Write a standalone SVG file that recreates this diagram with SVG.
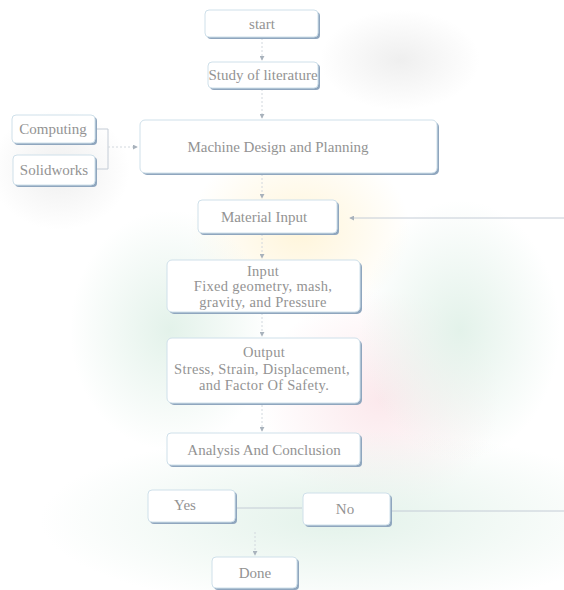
<svg xmlns="http://www.w3.org/2000/svg" width="564" height="590" viewBox="0 0 564 590">
<defs>
<style>
.bx{fill:#ffffff;stroke:#cfe0ea;stroke-width:1}
.sh{fill:#8fa6be}
.t{font-family:"Liberation Serif","Times New Roman",serif;font-size:15px;fill:#939393;text-anchor:middle}
.m{font-size:14.5px;letter-spacing:0.3px}
.ln{stroke:#c4ccd6;stroke-width:1;fill:none}
.ar{stroke:#d2d8de;stroke-width:1;fill:none;stroke-dasharray:2 2;marker-end:url(#ah)}
</style>
<marker id="ah" viewBox="0 0 6 6" refX="5" refY="3" markerWidth="5" markerHeight="5" orient="auto">
<path d="M0,0 L6,3 L0,6 z" fill="#a8b2bc"/>
</marker>
<radialGradient id="gy" cx="0.5" cy="0.5" r="0.5"><stop offset="0" stop-color="#fff4d6" stop-opacity="0.9"/><stop offset="1" stop-color="#fff4d6" stop-opacity="0"/></radialGradient>
<radialGradient id="gp" cx="0.5" cy="0.5" r="0.5"><stop offset="0" stop-color="#fbe6ea" stop-opacity="0.9"/><stop offset="1" stop-color="#fbe6ea" stop-opacity="0"/></radialGradient>
<radialGradient id="gg" cx="0.5" cy="0.5" r="0.5"><stop offset="0" stop-color="#e3f2ea" stop-opacity="1"/><stop offset="1" stop-color="#e3f2ea" stop-opacity="0"/></radialGradient>
<radialGradient id="gs" cx="0.5" cy="0.5" r="0.5"><stop offset="0" stop-color="#ededed" stop-opacity="0.9"/><stop offset="1" stop-color="#ededed" stop-opacity="0"/></radialGradient>
</defs>
<rect width="564" height="590" fill="#ffffff"/>
<g id="background">
<ellipse cx="300" cy="230" rx="110" ry="90" fill="url(#gy)"/>
<ellipse cx="380" cy="400" rx="120" ry="110" fill="url(#gp)"/>
<ellipse cx="170" cy="330" rx="100" ry="120" fill="url(#gg)"/>
<ellipse cx="340" cy="520" rx="300" ry="90" fill="url(#gg)"/>
<ellipse cx="460" cy="330" rx="100" ry="130" fill="url(#gg)"/>
<ellipse cx="60" cy="170" rx="70" ry="60" fill="url(#gs)"/>
<ellipse cx="400" cy="60" rx="80" ry="50" fill="url(#gs)"/>
</g>
<g id="connectors">
<line class="ar" x1="262" y1="38" x2="262" y2="60"/>
<line class="ar" x1="262" y1="89" x2="262" y2="118"/>
<path class="ln" d="M96,129 H108 V169 H96"/>
<line class="ar" x1="108" y1="147" x2="137" y2="147"/>
<line class="ar" x1="262" y1="174" x2="262" y2="198"/>
<line class="ln" x1="564" y1="218" x2="350" y2="218" marker-end="url(#ah)"/>
<line class="ar" x1="262" y1="234" x2="262" y2="258"/>
<line class="ar" x1="262" y1="313" x2="262" y2="336"/>
<line class="ar" x1="262" y1="405" x2="262" y2="431"/>
<line class="ln" x1="237" y1="508" x2="302" y2="508"/>
<line class="ln" x1="392" y1="511" x2="564" y2="511"/>
<line class="ar" x1="255" y1="532" x2="255" y2="555"/>
</g>
<g id="start">
<rect class="sh" x="207" y="12" width="113" height="27" rx="4"/>
<rect class="bx" x="205" y="10" width="113" height="27" rx="4"/>
<text class="t" x="262" y="29">start</text>
</g>
<g id="study">
<rect class="sh" x="210" y="64" width="110" height="26" rx="4"/>
<rect class="bx" x="208" y="62" width="110" height="26" rx="4"/>
<text class="t" x="263" y="80">Study of literature</text>
</g>
<g id="computing">
<rect class="sh" x="14" y="117" width="83" height="28" rx="4"/>
<rect class="bx" x="12" y="115" width="83" height="28" rx="4"/>
<text class="t" x="53" y="134">Computing</text>
</g>
<g id="solidworks">
<rect class="sh" x="15" y="157" width="82" height="30" rx="4"/>
<rect class="bx" x="13" y="155" width="82" height="30" rx="4"/>
<text class="t" x="54" y="175">Solidworks</text>
</g>
<g id="machine">
<rect class="sh" x="142" y="122" width="297" height="53" rx="5"/>
<rect class="bx" x="140" y="120" width="297" height="53" rx="5"/>
<text class="t" x="278" y="152">Machine Design and Planning</text>
</g>
<g id="material">
<rect class="sh" x="200" y="202" width="139" height="33" rx="4"/>
<rect class="bx" x="198" y="200" width="139" height="33" rx="4"/>
<text class="t" x="264" y="222">Material Input</text>
</g>
<g id="input">
<rect class="sh" x="169" y="262" width="193" height="52" rx="5"/>
<rect class="bx" x="167" y="260" width="193" height="52" rx="5"/>
<text class="t m" x="263" y="275.5">Input</text>
<text class="t m" x="263" y="291">Fixed geometry, mash,</text>
<text class="t m" x="263" y="306.5">gravity, and Pressure</text>
</g>
<g id="output">
<rect class="sh" x="169" y="340" width="193" height="65" rx="5"/>
<rect class="bx" x="167" y="338" width="193" height="65" rx="5"/>
<text class="t m" x="264" y="357">Output</text>
<text class="t m" x="262" y="373.5">Stress, Strain, Displacement,</text>
<text class="t m" x="264" y="390">and Factor Of Safety.</text>
</g>
<g id="analysis">
<rect class="sh" x="169" y="435" width="193" height="32" rx="4"/>
<rect class="bx" x="167" y="433" width="193" height="32" rx="4"/>
<text class="t" x="264" y="455">Analysis And Conclusion</text>
</g>
<g id="yes">
<rect class="sh" x="150" y="492" width="87" height="32" rx="4"/>
<rect class="bx" x="148" y="490" width="87" height="32" rx="4"/>
<text class="t" x="185" y="510">Yes</text>
</g>
<g id="no">
<rect class="sh" x="305" y="495" width="87" height="32" rx="4"/>
<rect class="bx" x="303" y="493" width="87" height="32" rx="4"/>
<text class="t" x="345" y="514">No</text>
</g>
<g id="done">
<rect class="sh" x="214" y="559" width="85" height="31" rx="4"/>
<rect class="bx" x="212" y="557" width="85" height="31" rx="4"/>
<text class="t" x="255" y="578">Done</text>
</g>
</svg>
